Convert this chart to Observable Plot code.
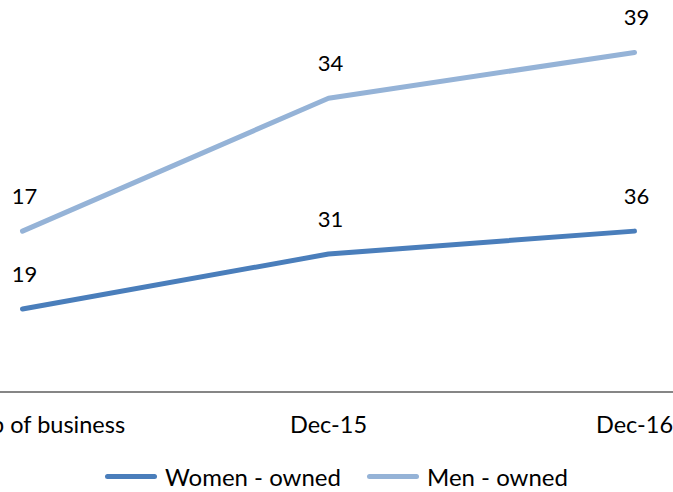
<!DOCTYPE html>
<html>
<head>
<meta charset="utf-8">
<script src="https://cdn.jsdelivr.net/npm/d3@7"></script>
<script src="https://cdn.jsdelivr.net/npm/@observablehq/plot@0.6"></script>
<style>
  body { margin: 0; background: #fff; }
  #wrap { position: relative; width: 673px; height: 492px; overflow: hidden; }
  #legend { position: absolute; left: 0; top: 461px; width: 673px; height: 30px; display: flex; justify-content: center; align-items: center;
            font-family: Lato, sans-serif; font-size: 24px; color: #000; }
  .item { display: flex; align-items: center; margin: 0 13px; }
  .sw { display: inline-block; width: 52px; height: 5px; border-radius: 3px; margin-right: 8px; }
</style>
</head>
<body>
<div id="wrap"><div id="chart"></div><div id="legend"></div></div>
<script>
const categories = ["Start-up of business", "Dec-15", "Dec-16"];
const women = [19, 31, 36];
const men = [17, 34, 39];
const seriesNames = ["Women - owned", "Men - owned"];
const colors = ["#4A7EBB", "#95B3D7"];

const data = categories.flatMap((c, i) => [
  {cat: c, series: seriesNames[0], value: women[i]},
  {cat: c, series: seriesNames[1], value: men[i]}
]);

const chart = Plot.plot({
  width: 673, height: 446,
  marginLeft: 22, marginRight: 39, marginTop: 29, marginBottom: 50.4,
  style: {fontFamily: "Lato, sans-serif", fontSize: "23.5px", color: "#000", overflow: "visible", background: "#fff"},
  x: {type: "point", domain: categories, padding: 0, label: null, tickSize: 0, tickPadding: 20},
  y: {domain: [0, 80], axis: null},
  color: {domain: seriesNames, range: colors},
  marks: [
    Plot.ruleY([0], {stroke: "#868686", strokeWidth: 2, insetLeft: -22, insetRight: -39, dy: -4}),
    Plot.lineY(data, Plot.stackY2({x: "cat", y: "value", z: "series", stroke: "series", strokeWidth: 5, strokeLinecap: "round", strokeLinejoin: "round"})),
    Plot.text(data, Plot.stackY2({x: "cat", y: "value", z: "series", text: "value", dy: -34, dx: 2, fill: "#000", fontSize: 22}))
  ]
});
document.getElementById("chart").appendChild(chart);

const legend = document.getElementById("legend");
seriesNames.forEach((name, i) => {
  const item = document.createElement("div");
  item.className = "item";
  const sw = document.createElement("span");
  sw.className = "sw";
  sw.style.background = colors[i];
  const t = document.createElement("span");
  t.textContent = name;
  item.appendChild(sw);
  item.appendChild(t);
  legend.appendChild(item);
});
</script>
</body>
</html>
